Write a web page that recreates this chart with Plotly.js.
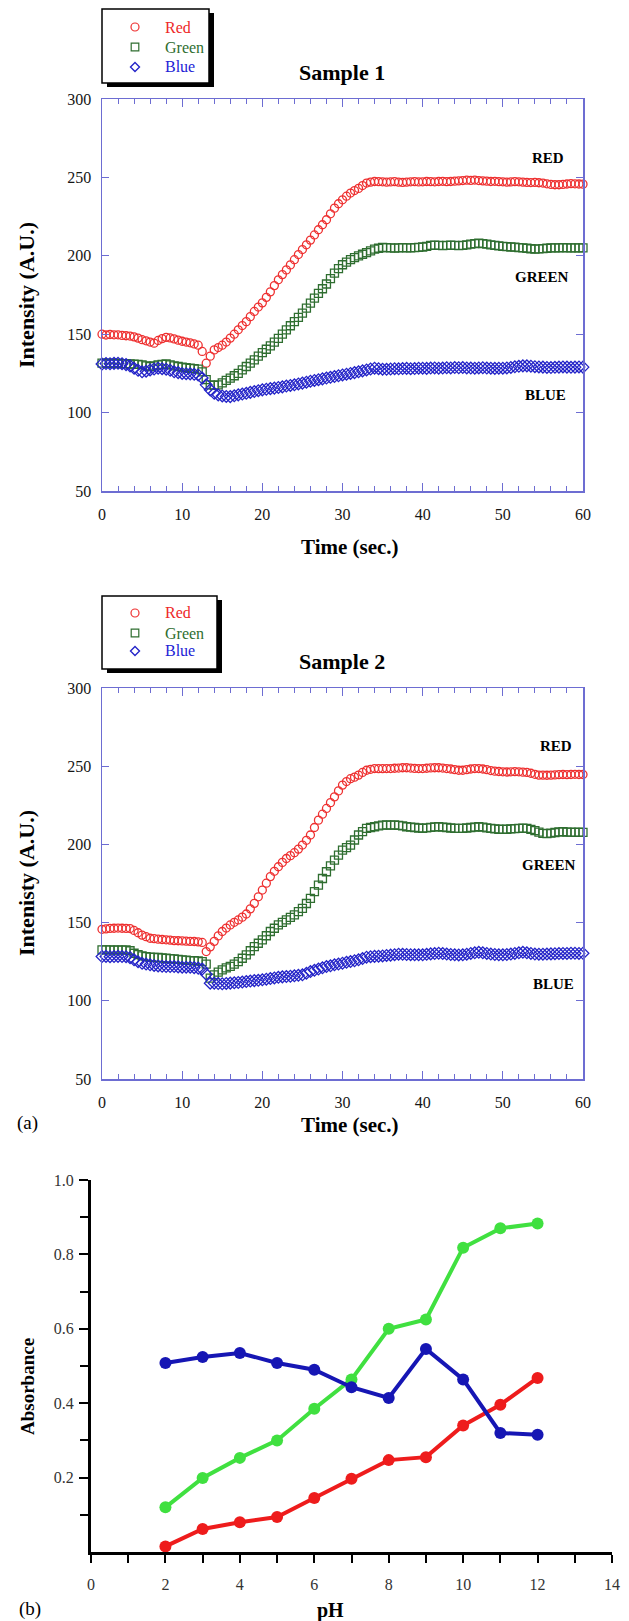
<!DOCTYPE html>
<html>
<head>
<meta charset="utf-8">
<script src="https://cdn.plot.ly/plotly-3.0.1.min.js"></script>
<style>html,body{margin:0;padding:0;background:#fff;}#chart{width:629px;height:1621px;}</style>
</head>
<body>
<div id="chart"></div>
<script>
// ---------- DATA ----------
const time = [
 0,0.5,1,1.5,2,2.5,3,3.5,4,4.5,
 5,5.5,6,6.5,7,7.5,8,8.5,9,9.5,
 10,10.5,11,11.5,12,12.5,13,13.5,14,14.5,
 15,15.5,16,16.5,17,17.5,18,18.5,19,19.5,
 20,20.5,21,21.5,22,22.5,23,23.5,24,24.5,
 25,25.5,26,26.5,27,27.5,28,28.5,29,29.5,
 30,30.5,31,31.5,32,32.5,33,33.5,34,34.5,
 35,35.5,36,36.5,37,37.5,38,38.5,39,39.5,
 40,40.5,41,41.5,42,42.5,43,43.5,44,44.5,
 45,45.5,46,46.5,47,47.5,48,48.5,49,49.5,
 50,50.5,51,51.5,52,52.5,53,53.5,54,54.5,
 55,55.5,56,56.5,57,57.5,58,58.5,59,59.5,
 60];

// Sample 1
const red1 = [
 150,149.5,149.8,149.6,149.6,149.2,149,148.8,148.3,147.5,
 146.5,145.8,145,144.3,146,147.2,148,147.6,147,146.2,
 145.5,145,144.5,143.8,143,139,131.5,136,140,141.5,
 143,145,147.5,150,152.8,155.5,158,161.2,164.5,167.3,
 170,173.5,177,181,184.7,188,191,194.2,197.5,200.8,
 204,207,210,213.3,216.6,219.8,223,226.8,230.4,233.2,
 235.7,238,240,241.6,243,244.8,246.4,247,247.4,247.3,
 247.2,247,247.1,247.3,247,246.8,247,247.2,247.3,247.1,
 247.2,247.4,247.3,247.2,247.4,247.5,247.3,247.4,247.6,247.8,
 248,248.2,248.1,248.3,248,247.8,247.6,247.4,247.5,247.3,
 247.2,247,247.1,247.3,247.2,247,246.8,246.7,246.8,246.6,
 246.4,245.9,245.5,245.3,245.3,245.5,245.8,246,245.9,245.8,
 245.7];
const green1 = [
 131.5,131.6,131.4,131.5,131.3,131.2,131.2,131,130.9,130.7,
 130.4,129.8,129.4,129.8,130.4,130.8,131,130.5,129.8,129.4,
 129,128.6,128.3,128,127.7,126,121,117.7,117.3,117.7,
 119,120.5,122,123.5,125,127.2,129.4,131.5,133.6,136,
 138.3,140.4,142.5,145,147.4,150,152.8,155.4,158,160.7,
 163.4,166.6,169.8,173,176,179,182,185.5,189,191.8,
 194.3,196,197.5,198.8,200,201,202,203.2,204.3,204.8,
 205.3,205.2,205,204.9,205,205.2,205.1,205,205.2,205.4,
 205.6,206,206.6,206.8,206.7,206.5,206.6,206.8,206.7,206.5,
 206.7,207,207.4,207.8,208,207.8,207.4,207,206.6,206.3,
 206,205.8,205.6,205.5,205.2,205,204.8,204.5,204.3,204.4,
 204.6,204.8,205,205.1,205,205.2,205.1,205,205.1,205,
 205];
const blue1 = [
 131,131.3,131.2,131.4,131.5,131.2,130.6,129.8,128.3,127,
 126,126.4,127.2,127.8,128.3,128,127.7,127,126,125.5,
 125,124.8,124.7,124.4,124,122,117.7,114.5,112.3,111.3,
 110.6,110.3,110.2,110.7,111.3,111.8,112.3,112.9,113.4,114,
 114.5,114.9,115.3,115.6,116,116.4,116.9,117.3,117.7,118.3,
 118.8,119.4,120,120.5,121,121.5,122,122.5,123,123.5,
 124,124.5,125,125.5,126,126.6,127.2,127.8,128.3,128,
 127.7,127.6,127.8,128,127.9,128.1,128.2,128,128.1,128.3,
 128.3,128.2,128.4,128.5,128.3,128.4,128.6,128.5,128.7,128.6,
 128.7,128.5,128.4,128.3,128.5,128.6,128.4,128.3,128.2,128.3,
 128.3,128.5,128.8,129.2,129.5,129.8,129.8,129.6,129.3,129.1,
 129,128.8,128.7,128.9,129,129.1,129,128.9,129,129.1,
 129];

// Sample 2
const red2 = [
 145.7,146,146.3,146.4,146.5,146.4,146.3,146.2,145,143.5,
 142,141,140,139.7,139.4,139.2,139,138.8,138.5,138.4,
 138.3,138.1,138,137.9,137.7,137.3,131.5,134.5,138,141.5,
 144.3,146.5,148.5,150.2,151.7,153.5,155.5,158.8,162.3,166.5,
 170.8,175.2,179.4,182.8,185.7,188.5,191,192.8,194.7,197,
 199.6,202.6,206,210.8,215.5,219.3,223,226.7,230.4,234.2,
 237.9,240.2,242,243,244.3,246,247.4,248,248.5,248.4,
 248.4,248.5,248.5,248.7,248.8,249,249,248.8,248.6,248.5,
 248.5,248.7,248.9,249,249,248.8,248.5,248.2,247.8,247.4,
 247.4,247.8,248.2,248.5,248.5,248.2,247.8,247.2,246.8,246.6,
 246.4,246.3,246.4,246.5,246.4,246.2,246,245.5,244.8,244.3,
 244.3,244.2,244.3,244.4,244.6,244.7,244.6,244.7,244.8,244.7,
 244.7];
const green2 = [
 132.5,132.6,132.5,132.4,132.5,132.4,132.5,132,130.4,129.5,
 128.7,128.2,127.9,127.8,127.7,127.4,127.2,127,126.8,126.5,
 126.2,126,125.7,125.6,125.5,125,123.5,114.5,116.6,118.3,
 119.8,121,122,123.5,125,127.2,129.4,132,134.7,136.8,
 139,141.6,144.3,146.4,148.5,150.1,151.7,153.3,154.9,157,
 159.1,162.2,165.5,169.8,174,178.2,182.5,186.3,190,193.2,
 196.4,198,199.6,202.8,206,208.2,210.2,210.8,211.3,211.8,
 212.3,212.4,212.3,212.4,212.2,211.8,211.3,211,210.8,210.5,
 210.2,210.6,210.9,211.2,211.3,211.1,210.8,210.5,210.3,210.2,
 210.2,210.5,210.8,211.1,211.3,211,210.6,210.2,209.9,209.7,
 209.6,209.7,209.9,210.1,210.2,210.4,210.3,209.6,208.8,207.8,
 207,206.9,207.2,207.6,208,208.1,207.9,207.8,207.7,207.8,
 207.7];
const blue2 = [
 128.3,128.4,128.2,128.3,128.4,128.3,128.2,127.6,126.2,125,
 124,123.5,123,122.6,122.3,122.1,121.9,121.9,121.9,121.7,
 121.5,121.5,121.5,121.2,120.9,120.3,117,111.3,111.3,111,
 110.9,111.1,111.3,111.5,111.7,112,112.3,112.6,112.9,113.1,
 113.4,113.8,114.2,114.6,115,115.3,115.5,115.7,116,116.3,
 116.6,117.6,118.7,119.5,120.3,121.1,121.9,122.4,123,123.5,
 124,124.6,125.1,125.6,126.2,127,127.9,128.2,128.4,128.5,
 128.7,129,129.2,129.5,129.8,129.7,129.6,129.5,129.4,129.4,
 129.4,129.7,130,130.2,130.4,130.2,129.9,129.6,129.4,129.3,
 129.4,129.8,130.3,130.7,131,130.7,130.3,129.9,129.6,129.4,
 129.4,129.6,129.9,130.3,130.7,131,130.7,130.3,129.9,129.8,
 129.8,129.9,130,130.1,130.2,130.3,130.3,130.4,130.4,130.3,
 130.4];

// (b) absorbance vs pH
const pH = [2,3,4,5,6,7,8,9,10,11,12];
const absRed   = [0.015,0.062,0.080,0.094,0.145,0.197,0.247,0.255,0.340,0.396,0.468];
const absGreen = [0.120,0.199,0.253,0.300,0.385,0.464,0.600,0.625,0.818,0.870,0.883];
const absBlue  = [0.508,0.524,0.535,0.508,0.490,0.443,0.414,0.546,0.464,0.320,0.315];

const seriesNames = ['Red','Green','Blue'];
const bandLabels = ['RED','GREEN','BLUE'];
const xTicks3 = [0,2,4,6,8,10,12,14];
const yTicks3 = [0.2,0.4,0.6,0.8,1.0];
const yTickText3 = ['0.2','0.4','0.6','0.8','1.0'];

// ---------- LAYOUT HELPERS ----------
const W = 629, H = 1621;
const X = p => p / W;
const Y = p => 1 - p / H;
const SERIF = 'Liberation Serif, Times New Roman, serif';
const FRAME = '#6d6dd2';
const cRed = '#ee3030', cGreen = '#2f6e30', cBlue = '#2424c8';
const lRed = '#ee1c1c', lGreen = '#40e040', lBlue = '#1616b4';

function ann(text, x, y, o) {
  o = o || {};
  return {text: text, x: X(x), y: Y(y), xref: 'paper', yref: 'paper', showarrow: false,
    xanchor: o.xa || 'center', yanchor: 'middle', textangle: o.angle || 0,
    font: {family: SERIF, size: o.size || 16, color: o.color || '#111'}};
}

function legendParts(x0, y0, x1, y1, rows) {
  const shapes = [], anns = [];
  shapes.push({type: 'rect', xref: 'paper', yref: 'paper', x0: X(x0 + 5), x1: X(x1 + 5), y0: Y(y1 + 4), y1: Y(y0 + 4),
    fillcolor: '#000', line: {width: 0}});
  shapes.push({type: 'rect', xref: 'paper', yref: 'paper', x0: X(x0), x1: X(x1), y0: Y(y1), y1: Y(y0),
    fillcolor: '#fff', line: {color: '#000', width: 1.5}});
  const mx = 135;
  shapes.push({type: 'circle', xref: 'paper', yref: 'paper', x0: X(mx - 4), x1: X(mx + 4), y0: Y(rows[0] + 4), y1: Y(rows[0] - 4),
    line: {color: cRed, width: 1.2}});
  shapes.push({type: 'rect', xref: 'paper', yref: 'paper', x0: X(mx - 3.8), x1: X(mx + 3.8), y0: Y(rows[1] + 3.8), y1: Y(rows[1] - 3.8),
    line: {color: cGreen, width: 1.2}});
  const r = rows[2];
  shapes.push({type: 'path', xref: 'paper', yref: 'paper',
    path: `M ${X(mx)},${Y(r - 4.5)} L ${X(mx + 4.5)},${Y(r)} L ${X(mx)},${Y(r + 4.5)} L ${X(mx - 4.5)},${Y(r)} Z`,
    line: {color: cBlue, width: 1.4}});
  const txtCols = ['#ee2828', '#2f6e30', '#2323d6'];
  for (let i = 0; i < 3; i++) anns.push(ann(seriesNames[i], 163, rows[i], {xa: 'left', size: 16, color: txtCols[i]}));
  return {shapes, anns};
}

function timeAxis(anchor) {
  return {
    domain: [X(102), X(583)], anchor: anchor, range: [0, 60], dtick: 10, tick0: 0,
    ticks: 'inside', ticklen: 8, tickwidth: 1, tickcolor: FRAME,
    minor: {dtick: 2, ticks: 'inside', ticklen: 5, tickwidth: 1, tickcolor: FRAME},
    showline: true, linecolor: FRAME, linewidth: 1.5, mirror: 'ticks',
    showgrid: false, zeroline: false, ticklabelstandoff: 8,
    tickfont: {family: SERIF, size: 16, color: '#151515'}
  };
}
function intAxis(top, bottom, anchor) {
  return {
    domain: [Y(bottom), Y(top)], anchor: anchor, range: [50, 300], dtick: 50, tick0: 50,
    ticks: 'inside', ticklen: 7, tickwidth: 1, tickcolor: FRAME,
    showline: true, linecolor: FRAME, linewidth: 1.5, mirror: 'ticks',
    showgrid: false, zeroline: false, ticklabelstandoff: 6,
    tickfont: {family: SERIF, size: 16, color: '#151515'}
  };
}

function bandTraces(xa, ya, r, g, b) {
  return [
    {x: time, y: r, xaxis: xa, yaxis: ya, type: 'scatter', mode: 'markers', name: seriesNames[0], cliponaxis: false,
      marker: {symbol: 'circle-open', size: 8, color: cRed, line: {width: 1.3}}},
    {x: time, y: g, xaxis: xa, yaxis: ya, type: 'scatter', mode: 'markers', name: seriesNames[1], cliponaxis: false,
      marker: {symbol: 'square-open', size: 8, color: cGreen, line: {width: 1.3}}},
    {x: time, y: b, xaxis: xa, yaxis: ya, type: 'scatter', mode: 'markers', name: seriesNames[2], cliponaxis: false,
      marker: {symbol: 'diamond-open', size: 9, color: cBlue, line: {width: 1.3}}}
  ];
}

const traces = [].concat(
  bandTraces('x', 'y', red1, green1, blue1),
  bandTraces('x2', 'y2', red2, green2, blue2),
  [
    {x: pH, y: absRed, xaxis: 'x3', yaxis: 'y3', type: 'scatter', mode: 'lines+markers', name: 'Red', cliponaxis: false,
      line: {color: lRed, width: 4}, marker: {color: lRed, size: 12}},
    {x: pH, y: absGreen, xaxis: 'x3', yaxis: 'y3', type: 'scatter', mode: 'lines+markers', name: 'Green', cliponaxis: false,
      line: {color: lGreen, width: 4}, marker: {color: lGreen, size: 12}},
    {x: pH, y: absBlue, xaxis: 'x3', yaxis: 'y3', type: 'scatter', mode: 'lines+markers', name: 'Blue', cliponaxis: false,
      line: {color: lBlue, width: 4}, marker: {color: lBlue, size: 12}}
  ]
);

const leg1 = legendParts(102, 9, 209, 83, [27, 47, 67]);
const leg2 = legendParts(102, 596, 217, 669, [613, 633, 651]);

const annotations = [].concat(leg1.anns, leg2.anns, [
  ann('<b>Sample 1</b>', 342, 72, {size: 22, color: '#000'}),
  ann('<b>Sample 2</b>', 342, 661, {size: 22, color: '#000'}),
  ann('<b>Intensity (A.U.)</b>', 26, 295, {size: 22, angle: -90, color: '#000'}),
  ann('<b>Intenisty (A.U.)</b>', 26, 883, {size: 22, angle: -90, color: '#000'}),
  ann('<b>Time (sec.)</b>', 350, 547, {size: 21, color: '#000'}),
  ann('<b>Time (sec.)</b>', 350, 1125, {size: 21, color: '#000'}),
  ann('<b>' + bandLabels[0] + '</b>', 548, 158, {size: 15, color: '#000'}),
  ann('<b>' + bandLabels[1] + '</b>', 542, 277, {size: 15, color: '#000'}),
  ann('<b>' + bandLabels[2] + '</b>', 545, 395, {size: 15, color: '#000'}),
  ann('<b>' + bandLabels[0] + '</b>', 556, 746, {size: 15, color: '#000'}),
  ann('<b>' + bandLabels[1] + '</b>', 549, 865, {size: 15, color: '#000'}),
  ann('<b>' + bandLabels[2] + '</b>', 553, 984, {size: 15, color: '#000'}),
  ann('(a)', 27, 1123, {size: 19, color: '#000'}),
  ann('(b)', 30, 1609, {size: 19, color: '#000'}),
  ann('<b>Absorbance</b>', 27, 1387, {size: 19, angle: -90, color: '#000'}),
  ann('<b>pH</b>', 330, 1610, {size: 20, color: '#000'})
]);

const layout = {
  width: W, height: H, margin: {l: 0, r: 0, t: 0, b: 0}, showlegend: false,
  paper_bgcolor: '#fff', plot_bgcolor: 'rgba(0,0,0,0)',
  xaxis: timeAxis('y'),
  yaxis: intAxis(99, 491, 'x'),
  xaxis2: timeAxis('y2'),
  yaxis2: intAxis(688, 1079, 'x2'),
  xaxis3: {
    domain: [X(91), X(612)], anchor: 'y3', range: [0, 14], tickvals: xTicks3,
    ticks: 'outside', ticklen: 8, tickwidth: 2, tickcolor: '#000',
    minor: {dtick: 1, ticks: 'outside', ticklen: 8, tickwidth: 2, tickcolor: '#000'},
    showline: true, linecolor: '#000', linewidth: 3, showgrid: false, zeroline: false,
    ticklabelstandoff: 8, tickfont: {family: SERIF, size: 16, color: '#333'}
  },
  yaxis3: {
    domain: [Y(1552), Y(1180)], anchor: 'x3', range: [0, 1], tickvals: yTicks3, ticktext: yTickText3,
    ticks: 'outside', ticklen: 9, tickwidth: 2, tickcolor: '#000',
    minor: {tickvals: [0.1, 0.3, 0.5, 0.7, 0.9], ticks: 'outside', ticklen: 8, tickwidth: 2, tickcolor: '#000'},
    showline: true, linecolor: '#000', linewidth: 3, showgrid: false, zeroline: false,
    ticklabelstandoff: 2, tickfont: {family: SERIF, size: 16, color: '#333'}
  },
  shapes: [].concat(leg1.shapes, leg2.shapes),
  annotations: annotations
};

Plotly.newPlot('chart', traces, layout, {displayModeBar: false, staticPlot: true});
</script>
</body>
</html>
